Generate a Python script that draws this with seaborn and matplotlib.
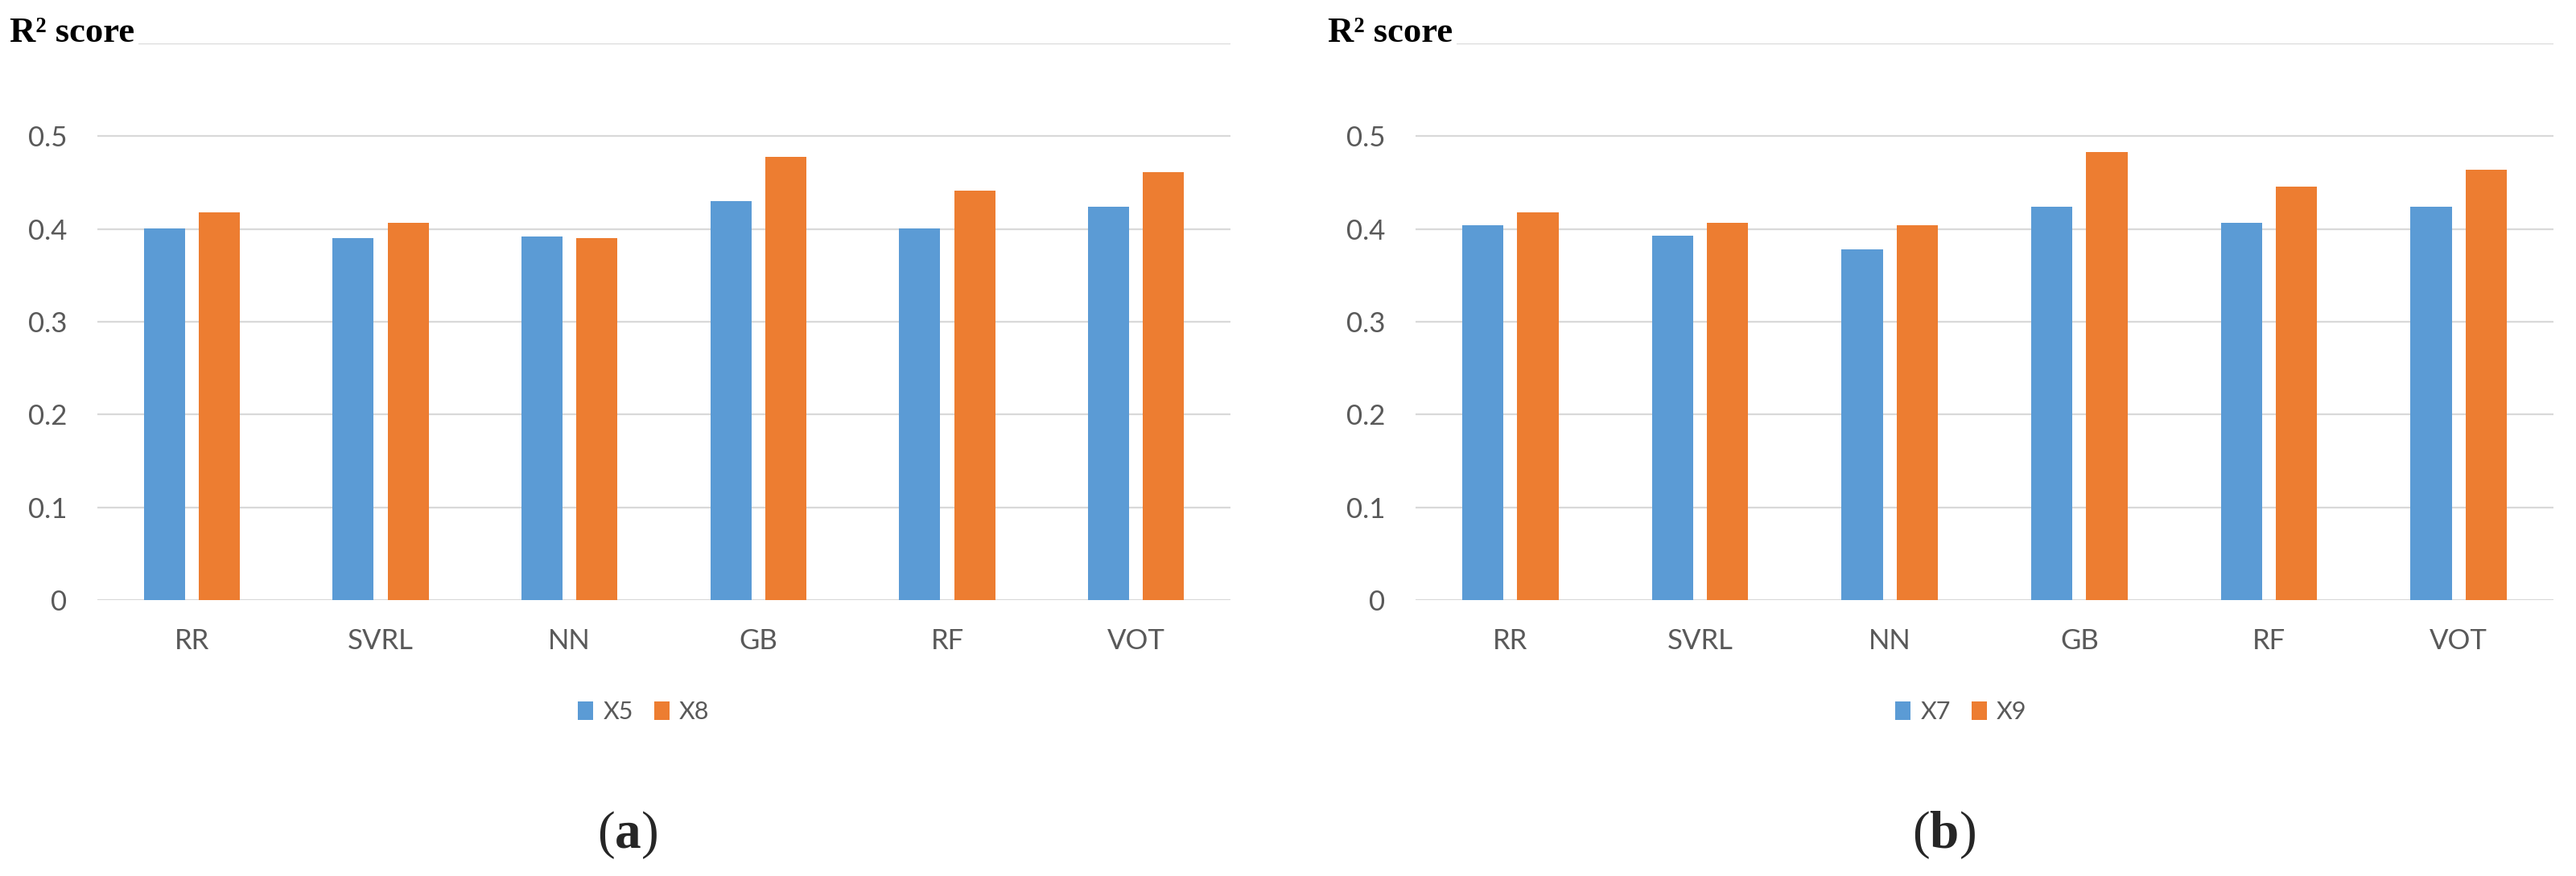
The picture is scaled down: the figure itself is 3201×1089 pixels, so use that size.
import pandas as pd
import matplotlib
matplotlib.use('Agg')
import matplotlib.pyplot as plt
import seaborn as sns

# R2 scores
models = ['RR', 'SVRL', 'NN', 'GB', 'RF', 'VOT']
a_x5 = [0.401, 0.390, 0.392, 0.430, 0.401, 0.424]
a_x8 = [0.418, 0.407, 0.390, 0.478, 0.441, 0.461]
b_x7 = [0.404, 0.393, 0.378, 0.424, 0.407, 0.424]
b_x9 = [0.418, 0.407, 0.404, 0.483, 0.446, 0.464]
yticks = [0, 0.1, 0.2, 0.3, 0.4, 0.5, 0.6]
ytick_labels = ['0', '0.1', '0.2', '0.3', '0.4', '0.5', '']

sns.set_style('white')
plt.rcParams['font.family'] = ['Lato', 'DejaVu Sans']
plt.rcParams['mathtext.fontset'] = 'custom'
plt.rcParams['mathtext.rm'] = 'Liberation Serif'
plt.rcParams['mathtext.bf'] = 'Liberation Serif:bold'

blue = '#5B9BD5'
orange = '#ED7D31'
grid_c = '#D9D9D9'
txt_c = '#595959'

W, H = 3201, 1089
fig = plt.figure(figsize=(W / 100, H / 100), dpi=100)


def make_df(s1, s2, n1, n2):
    df = pd.DataFrame({'model': models * 2,
                       'score': s1 + s2,
                       'feat': [n1] * len(models) + [n2] * len(models)})
    return df


def draw(ax, df, names, leg_x, tag, tag_x):
    sns.barplot(data=df, x='model', y='score', hue='feat', hue_order=names,
                palette=[blue, orange], width=0.58, gap=0.25, ax=ax,
                saturation=1, edgecolor='none', linewidth=0)
    ax.set_xlim(-0.5, 5.5)
    ax.set_ylim(0, 0.6)
    ax.set_yticks(yticks)
    ax.set_yticklabels(ytick_labels)
    ax.set_xlabel('')
    ax.set_ylabel('')
    for s in ax.spines.values():
        s.set_visible(False)
    ax.grid(axis='y', color=grid_c, linewidth=1.6)
    ax.grid(axis='x', visible=False)
    ax.set_axisbelow(True)
    ax.tick_params(axis='y', length=0, pad=27, labelsize=25, labelcolor=txt_c)
    ax.tick_params(axis='x', length=0, pad=25, labelsize=25, labelcolor=txt_c)
    ax.annotate('R² score', xy=(0, 0.6), xycoords=('axes fraction', 'data'),
                xytext=(-109, 2), textcoords='offset pixels', ha='left',
                va='baseline', fontsize=32, fontweight='bold',
                family='Liberation Serif', color='black', annotation_clip=False,
                bbox=dict(boxstyle='square,pad=0.12', fc='white', ec='none'))
    sns.move_legend(ax, 'center', bbox_to_anchor=(leg_x / W, 1 - 885 / H),
                    bbox_transform=fig.transFigure, ncol=2, frameon=False,
                    title=None, fontsize=22, handlelength=0.62,
                    handleheight=0.75, handletextpad=0.4, columnspacing=0.85)
    for t in ax.get_legend().get_texts():
        t.set_color(txt_c)
    fig.text(tag_x / W, 1 - 1038 / H, tag, ha='center', va='center', fontsize=47)


ax1 = fig.add_axes([121 / W, 1 - 746 / H, 1408 / W, 692 / H])
ax2 = fig.add_axes([1759 / W, 1 - 746 / H, 1414 / W, 692 / H])

draw(ax1, make_df(a_x5, a_x8, 'X5', 'X8'), ['X5', 'X8'], 800,
     r'$(\mathbf{a})$', 780)
draw(ax2, make_df(b_x7, b_x9, 'X7', 'X9'), ['X7', 'X9'], 2437,
     r'$(\mathbf{b})$', 2415)

fig.savefig('out.png', dpi=100, facecolor='white')
